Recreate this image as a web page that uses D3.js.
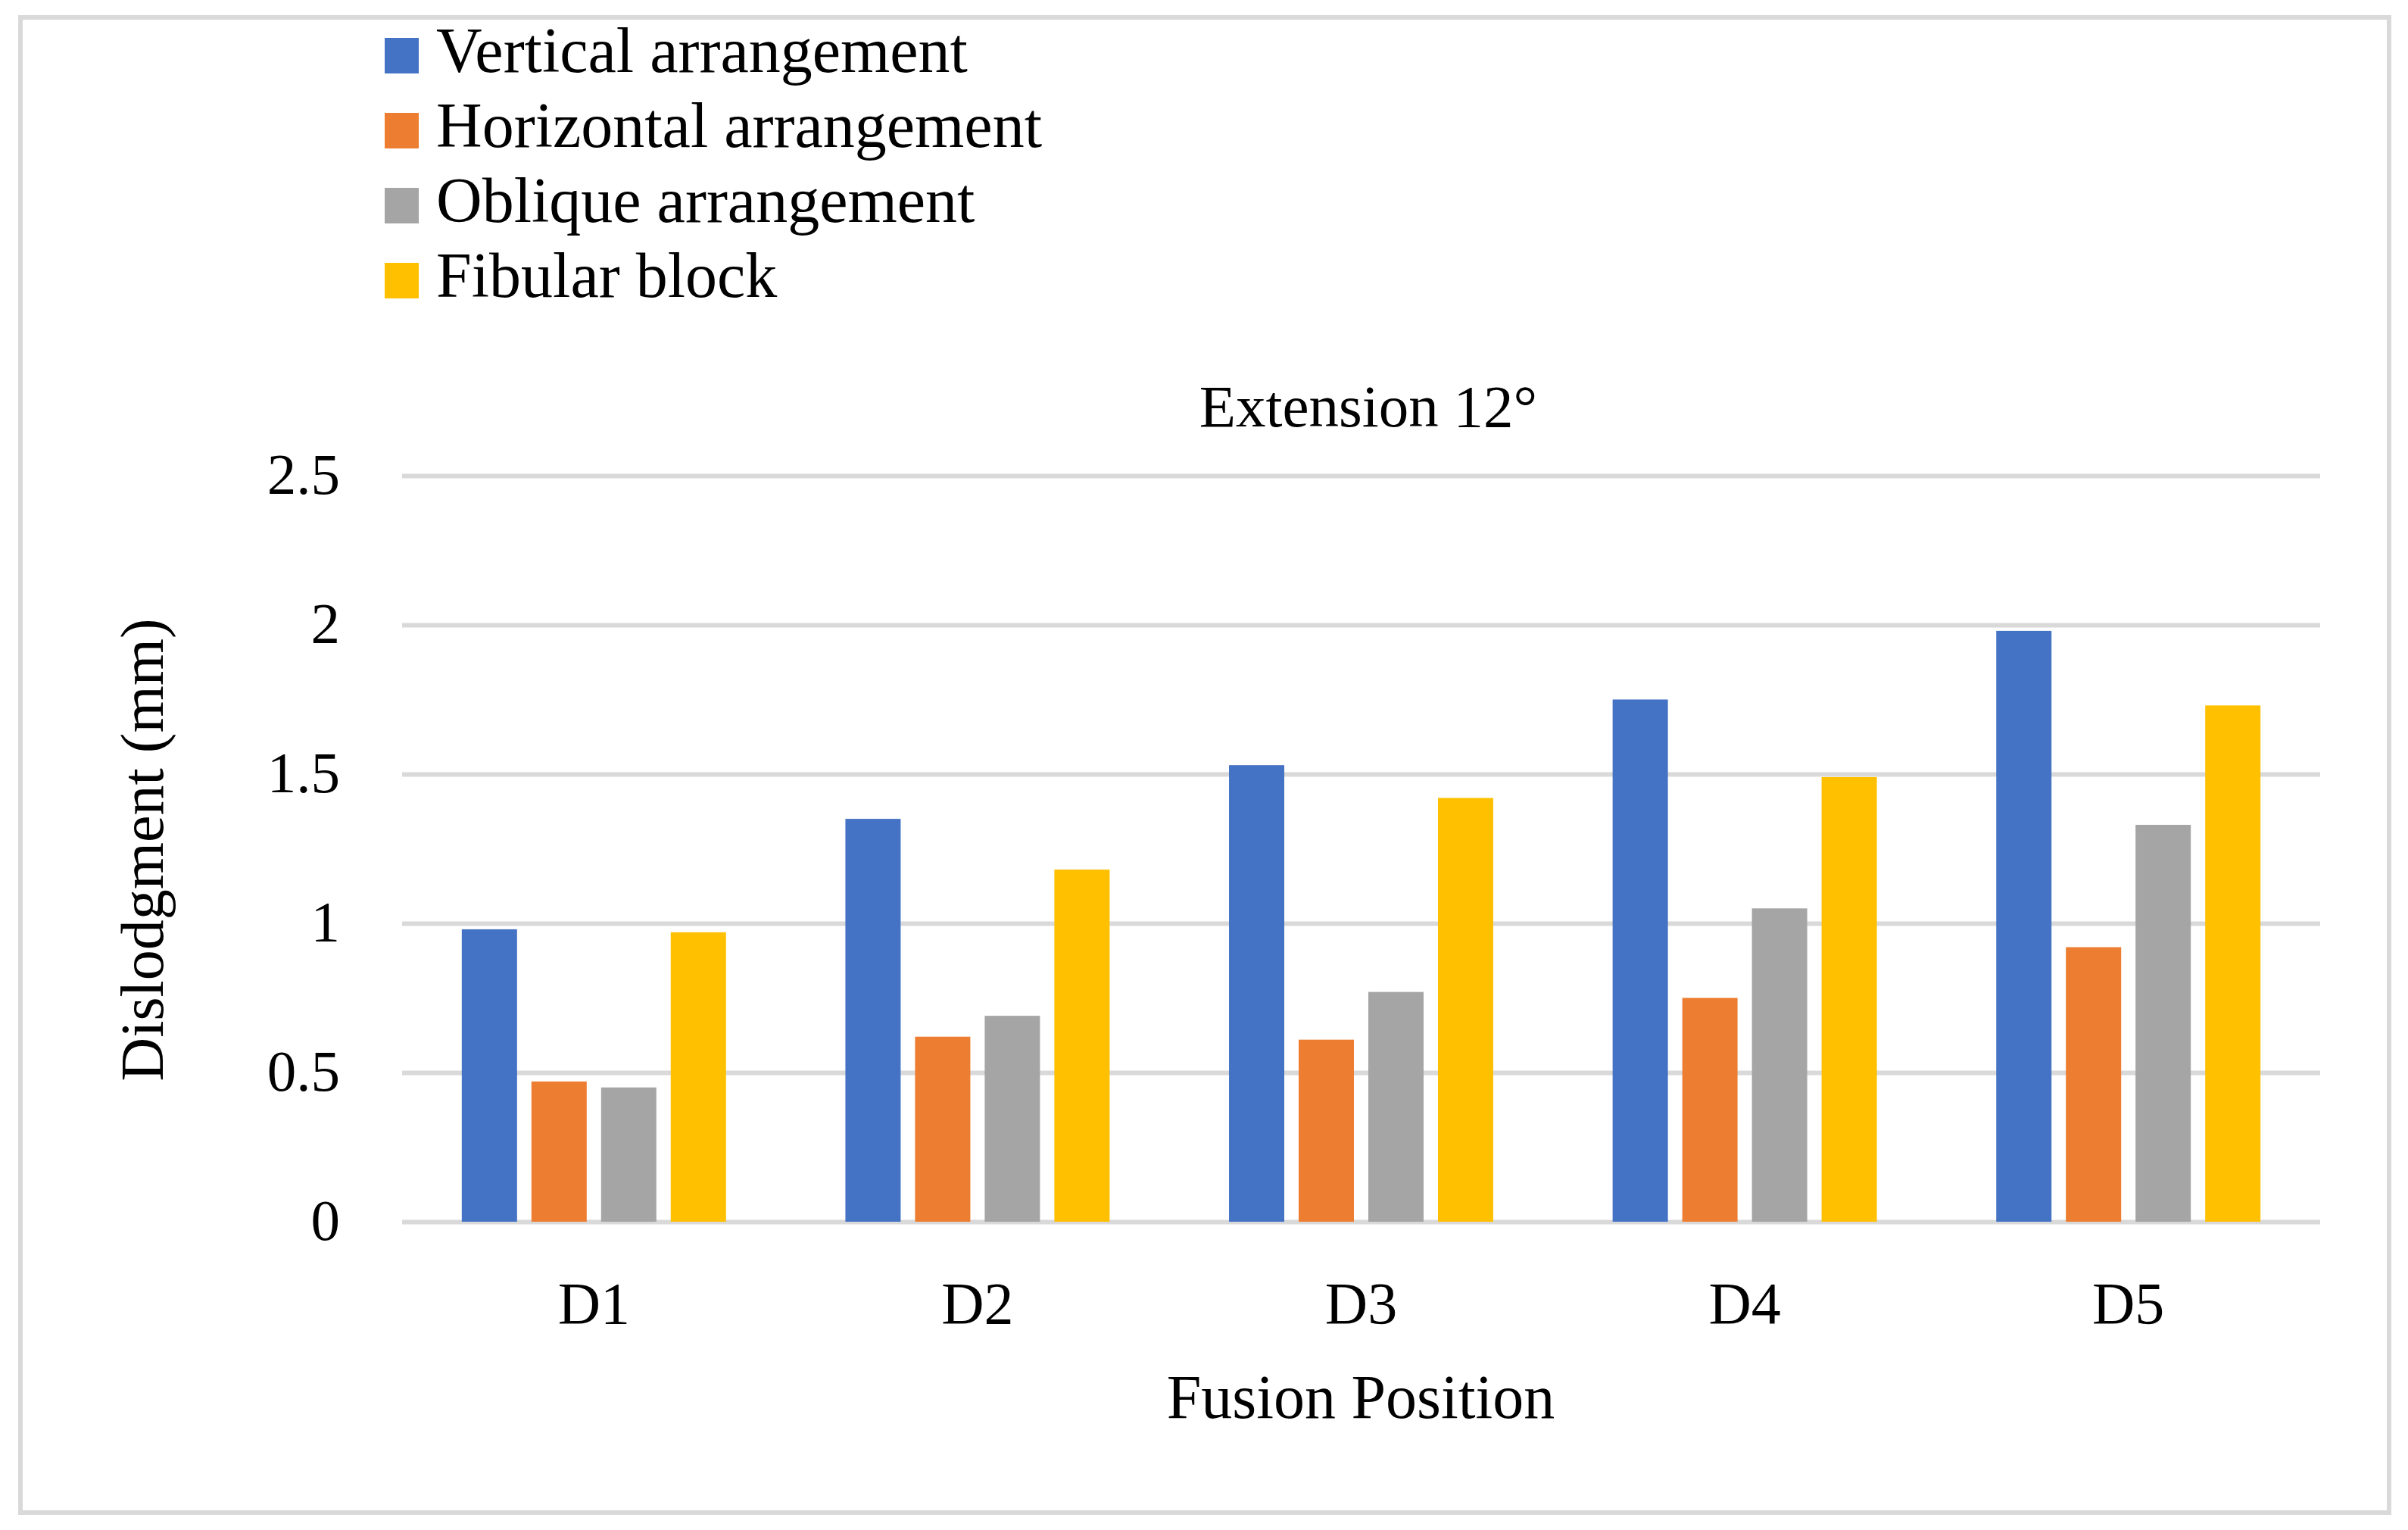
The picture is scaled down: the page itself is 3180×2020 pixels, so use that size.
<!DOCTYPE html>
<html>
<head>
<meta charset="utf-8">
<script src="https://cdn.jsdelivr.net/npm/d3@7"></script>
<style>
  body { margin: 0; background: #fff; }
  text { font-family: "Liberation Serif", "DejaVu Serif", serif; fill: #000; }
</style>
</head>
<body>
<div id="chart"></div>
<script>
// Data
const categories = ["D1", "D2", "D3", "D4", "D5"];
const seriesNames = ["Vertical arrangement", "Horizontal arrangement", "Oblique arrangement", "Fibular block"];
const verticalValues = [0.98, 1.35, 1.53, 1.75, 1.98];
const horizontalValues = [0.47, 0.62, 0.61, 0.75, 0.92];
const obliqueValues = [0.45, 0.69, 0.77, 1.05, 1.33];
const fibularValues = [0.97, 1.18, 1.42, 1.49, 1.73];
const yTicks = [0, 0.5, 1, 1.5, 2, 2.5];
const colors = ["#4472C4", "#ED7D31", "#A5A5A5", "#FFC000"];

const allValues = [verticalValues, horizontalValues, obliqueValues, fibularValues];

const svgWidth = 3180;
const svgHeight = 2020;
const plot = { left: 531, right: 3064, top: 628, bottom: 1613 };

const svg = d3.select("#chart").append("svg")
    .attr("width", svgWidth)
    .attr("height", svgHeight);

svg.append("rect").attr("width", svgWidth).attr("height", svgHeight).attr("fill", "#fff");

// outer frame
svg.append("rect")
    .attr("x", 27).attr("y", 23)
    .attr("width", 3128).attr("height", 1974)
    .attr("fill", "none")
    .attr("stroke", "#d9d9d9")
    .attr("stroke-width", 6);

// Scales
const x0 = d3.scaleBand().domain(categories).range([plot.left, plot.right]).padding(0);
const x1 = d3.scaleBand().domain(seriesNames).range([0, x0.bandwidth()])
    .paddingInner(0.2065).paddingOuter(0.857);
const y = d3.scaleLinear().domain([0, 2.5]).range([plot.bottom, plot.top]);

// Y axis with gridlines
const yAxis = svg.append("g")
    .attr("transform", `translate(${plot.left},0)`)
    .call(d3.axisLeft(y).tickValues(yTicks).tickFormat(d => String(d))
        .tickSize(-(plot.right - plot.left)).tickPadding(82));
yAxis.select(".domain").remove();
yAxis.selectAll(".tick line").attr("stroke", "#d9d9d9").attr("stroke-width", 6);
yAxis.selectAll(".tick text")
    .attr("dy", null).attr("y", 23)
    .style("font-family", "Liberation Serif")
    .style("font-size", "77px");

// Bars
const groups = svg.append("g").selectAll("g")
    .data(categories)
    .enter().append("g")
    .attr("transform", d => `translate(${x0(d)},0)`);

groups.selectAll("rect")
    .data((c, i) => seriesNames.map((s, k) => ({ series: s, k: k, value: allValues[k][i] })))
    .enter().append("rect")
    .attr("x", d => x1(d.series))
    .attr("y", d => y(d.value))
    .attr("width", x1.bandwidth())
    .attr("height", d => y(0) - y(d.value))
    .attr("fill", d => colors[d.k]);

// X axis (labels only)
const xAxis = svg.append("g")
    .attr("transform", `translate(0,${plot.bottom})`)
    .call(d3.axisBottom(x0).tickSize(0));
xAxis.select(".domain").remove();
xAxis.selectAll(".tick text")
    .attr("dy", null).attr("y", 134)
    .style("font-family", "Liberation Serif")
    .style("font-size", "78px");

// Title
svg.append("text")
    .attr("x", 1807).attr("y", 563)
    .attr("text-anchor", "middle")
    .style("font-size", "79px")
    .text("Extension 12°");

// Axis titles
svg.append("text")
    .attr("x", 1797).attr("y", 1872)
    .attr("text-anchor", "middle")
    .style("font-size", "82px")
    .text("Fusion Position");

svg.append("text")
    .attr("transform", "rotate(-90)")
    .attr("x", -1122).attr("y", 215)
    .attr("text-anchor", "middle")
    .style("font-size", "80px")
    .text("Dislodgment (mm)");

// Legend
const legend = svg.append("g").selectAll("g")
    .data(seriesNames)
    .enter().append("g")
    .attr("transform", (d, i) => `translate(508,${50 + i * 99})`);

legend.append("rect")
    .attr("width", 45).attr("height", 47)
    .attr("fill", (d, i) => colors[i]);

legend.append("text")
    .attr("x", 68).attr("y", 45)
    .style("font-size", "84px")
    .text(d => d);
</script>
</body>
</html>
